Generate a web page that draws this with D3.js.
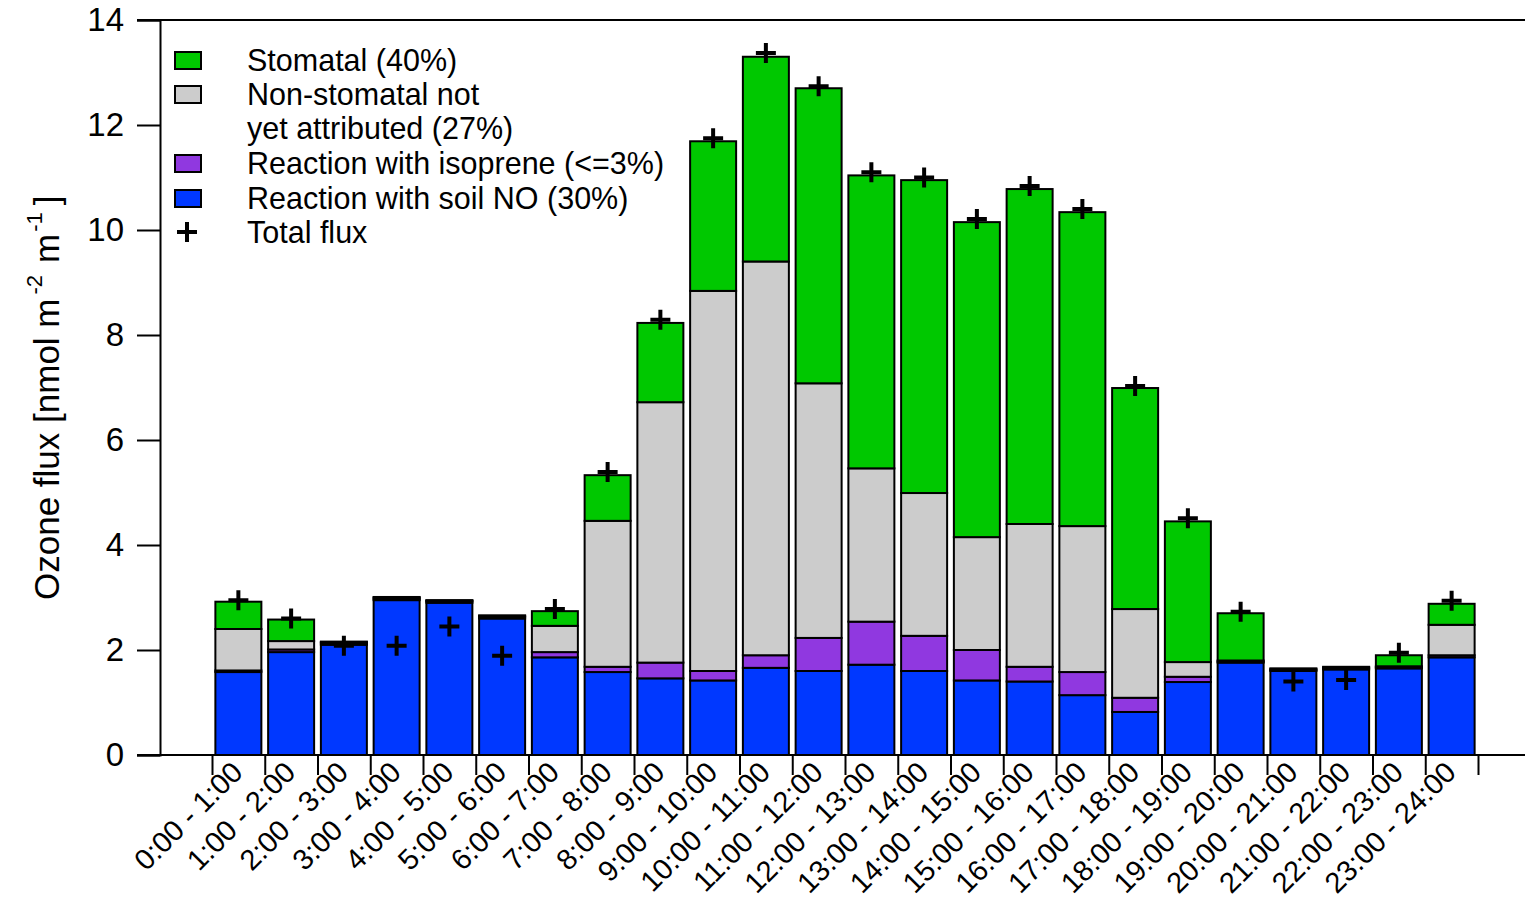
<!DOCTYPE html>
<html>
<head>
<meta charset="utf-8">
<script src="https://cdn.jsdelivr.net/npm/d3@7"></script>
<style>
  body { margin: 0; background: #fff; }
  svg { font-family: "Liberation Sans", Arial, sans-serif; }
</style>
</head>
<body>
<svg id="chart" width="1525" height="903"></svg>
<script>
var hours = ["0:00 - 1:00", "1:00 - 2:00", "2:00 - 3:00", "3:00 - 4:00", "4:00 - 5:00", "5:00 - 6:00",
  "6:00 - 7:00", "7:00 - 8:00", "8:00 - 9:00", "9:00 - 10:00", "10:00 - 11:00", "11:00 - 12:00",
  "12:00 - 13:00", "13:00 - 14:00", "14:00 - 15:00", "15:00 - 16:00", "16:00 - 17:00", "17:00 - 18:00",
  "18:00 - 19:00", "19:00 - 20:00", "20:00 - 21:00", "21:00 - 22:00", "22:00 - 23:00", "23:00 - 24:00"]

var soilNO   = [1.58, 1.96, 2.10, 2.95, 2.90, 2.60, 1.86, 1.58, 1.46, 1.42, 1.66, 1.60,
                1.72, 1.60, 1.42, 1.40, 1.14, 0.82, 1.39, 1.76, 1.60, 1.63, 1.65, 1.86]
var isoprene = [0.03, 0.05, 0.03, 0.03, 0.03, 0.03, 0.10, 0.10, 0.30, 0.18, 0.24, 0.63,
                0.82, 0.67, 0.58, 0.28, 0.44, 0.27, 0.10, 0.02, 0.02, 0.02, 0.02, 0.04]
var nonStom  = [0.79, 0.16, 0.02, 0.02, 0.01, 0.02, 0.50, 2.78, 4.96, 7.24, 7.50, 4.85,
                2.92, 2.72, 2.15, 2.72, 2.78, 1.69, 0.28, 0.02, 0.02, 0.02, 0.02, 0.58]
var stomatal = [0.52, 0.41, 0.01, 0.01, 0.01, 0.01, 0.28, 0.87, 1.51, 2.85, 3.90, 5.62,
                5.58, 5.96, 6.00, 6.38, 5.98, 4.21, 2.68, 0.90, 0.01, 0.01, 0.21, 0.40]
var totalFlux = [2.95, 2.60, 2.08, 2.08, 2.45, 1.89, 2.78, 5.39, 8.29, 11.75, 13.37, 12.74,
                 11.10, 11.00, 10.21, 10.84, 10.40, 7.03, 4.51, 2.73, 1.40, 1.43, 1.95, 2.94]

var yTicks = [0, 2, 4, 6, 8, 10, 12, 14]

var keys = ["soil", "iso", "nonstom", "stom"]
var colors = { soil: "#0038ff", iso: "#9038e0", nonstom: "#cccccc", stom: "#00c800" }

var rows = hours.map(function (h, i) {
  return { hour: h, soil: soilNO[i], iso: isoprene[i], nonstom: nonStom[i], stom: stomatal[i], total: totalFlux[i] }
})

var svg = d3.select("#chart")

var x = d3.scaleBand().domain(hours).range([212, 1478]).paddingInner(0.128).paddingOuter(0.064)
var xh = d3.scaleLinear().domain([0, 24]).range([212, 1478])
var y = d3.scaleLinear().domain([0, 14]).range([755, 20])

// top frame line
svg.append("line").attr("x1", 137).attr("x2", 1525).attr("y1", y(14)).attr("y2", y(14))
  .attr("stroke", "#000").attr("stroke-width", 2)

// y axis
var yAxis = svg.append("g")
  .attr("transform", "translate(160,0)")
  .call(d3.axisLeft(y).tickValues(yTicks).tickSize(23).tickPadding(13).tickFormat(d3.format("d")))
yAxis.select(".domain").attr("stroke-width", 2)
yAxis.selectAll(".tick line").attr("stroke-width", 2)
yAxis.selectAll(".tick text").attr("font-size", 33).attr("font-family", "Liberation Sans, Arial, sans-serif").attr("fill", "#000")

// x axis, ticks at the hour boundaries
var xAxis = svg.append("g")
  .attr("transform", "translate(0,755)")
  .call(d3.axisBottom(xh).tickValues(d3.range(25)).tickSize(20).tickFormat(""))
xAxis.select(".domain").remove()
xAxis.selectAll(".tick line").attr("stroke-width", 2)
svg.append("line").attr("x1", 137).attr("x2", 1525).attr("y1", 755).attr("y2", 755)
  .attr("stroke", "#000").attr("stroke-width", 2)

// stacked bars
var stacked = d3.stack().keys(keys)(rows)
svg.append("g").selectAll("g").data(stacked).enter().append("g")
  .attr("fill", function (d) { return colors[d.key] })
  .selectAll("rect").data(function (d) { return d }).enter().append("rect")
  .attr("x", function (d) { return x(d.data.hour) })
  .attr("width", x.bandwidth())
  .attr("y", function (d) { return y(d[1]) })
  .attr("height", function (d) { return y(d[0]) - y(d[1]) })
  .attr("stroke", "#000")
  .attr("stroke-width", 2)

// total flux markers
var plus = "M-10,0H10M0,-10V10"
svg.append("g").selectAll("path").data(rows).enter().append("path")
  .attr("d", plus)
  .attr("transform", function (d) { return "translate(" + (x(d.hour) + x.bandwidth() / 2) + "," + y(d.total) + ")" })
  .attr("stroke", "#000").attr("stroke-width", 4).attr("fill", "none")

// x labels
svg.append("g").selectAll("text").data(hours).enter().append("text")
  .attr("transform", function (d) { return "translate(" + (x(d) + x.bandwidth() / 2 + 6) + ",774) rotate(-45)" })
  .attr("text-anchor", "end")
  .attr("font-size", 29)
  .text(function (d) { return d })

// y label
var yl = svg.append("text")
  .attr("transform", "translate(59,600) rotate(-90)")
  .attr("text-anchor", "start")
  .attr("font-size", 35)
yl.append("tspan").text("Ozone flux [nmol m")
yl.append("tspan").attr("dx", 4).attr("dy", -17).attr("font-size", 22).text("-2")
yl.append("tspan").attr("dx", 12).attr("dy", 17).text("m")
yl.append("tspan").attr("dx", 2).attr("dy", -17).attr("font-size", 22).text("-1")
yl.append("tspan").attr("dx", 7).attr("dy", 17).text("]")

// legend
var legendItems = [
  { key: "stom", lines: ["Stomatal (40%)"], y: 60 },
  { key: "nonstom", lines: ["Non-stomatal not", "yet attributed (27%)"], y: 94 },
  { key: "iso", lines: ["Reaction with isoprene (<=3%)"], y: 163 },
  { key: "soil", lines: ["Reaction with soil NO (30%)"], y: 198 },
  { key: "total", lines: ["Total flux"], y: 232 }
]
var lg = svg.append("g")
legendItems.forEach(function (it) {
  if (it.key === "total") {
    lg.append("path").attr("d", plus).attr("transform", "translate(187," + it.y + ")")
      .attr("stroke", "#000").attr("stroke-width", 4)
  } else {
    lg.append("rect").attr("x", 175).attr("y", it.y - 8).attr("width", 26).attr("height", 17)
      .attr("fill", colors[it.key]).attr("stroke", "#000").attr("stroke-width", 2)
  }
  it.lines.forEach(function (t, j) {
    lg.append("text").attr("x", 247).attr("y", it.y + j * 34.5).attr("dy", "0.35em")
      .attr("font-size", 30.5).text(t)
  })
})
</script>
</body>
</html>
